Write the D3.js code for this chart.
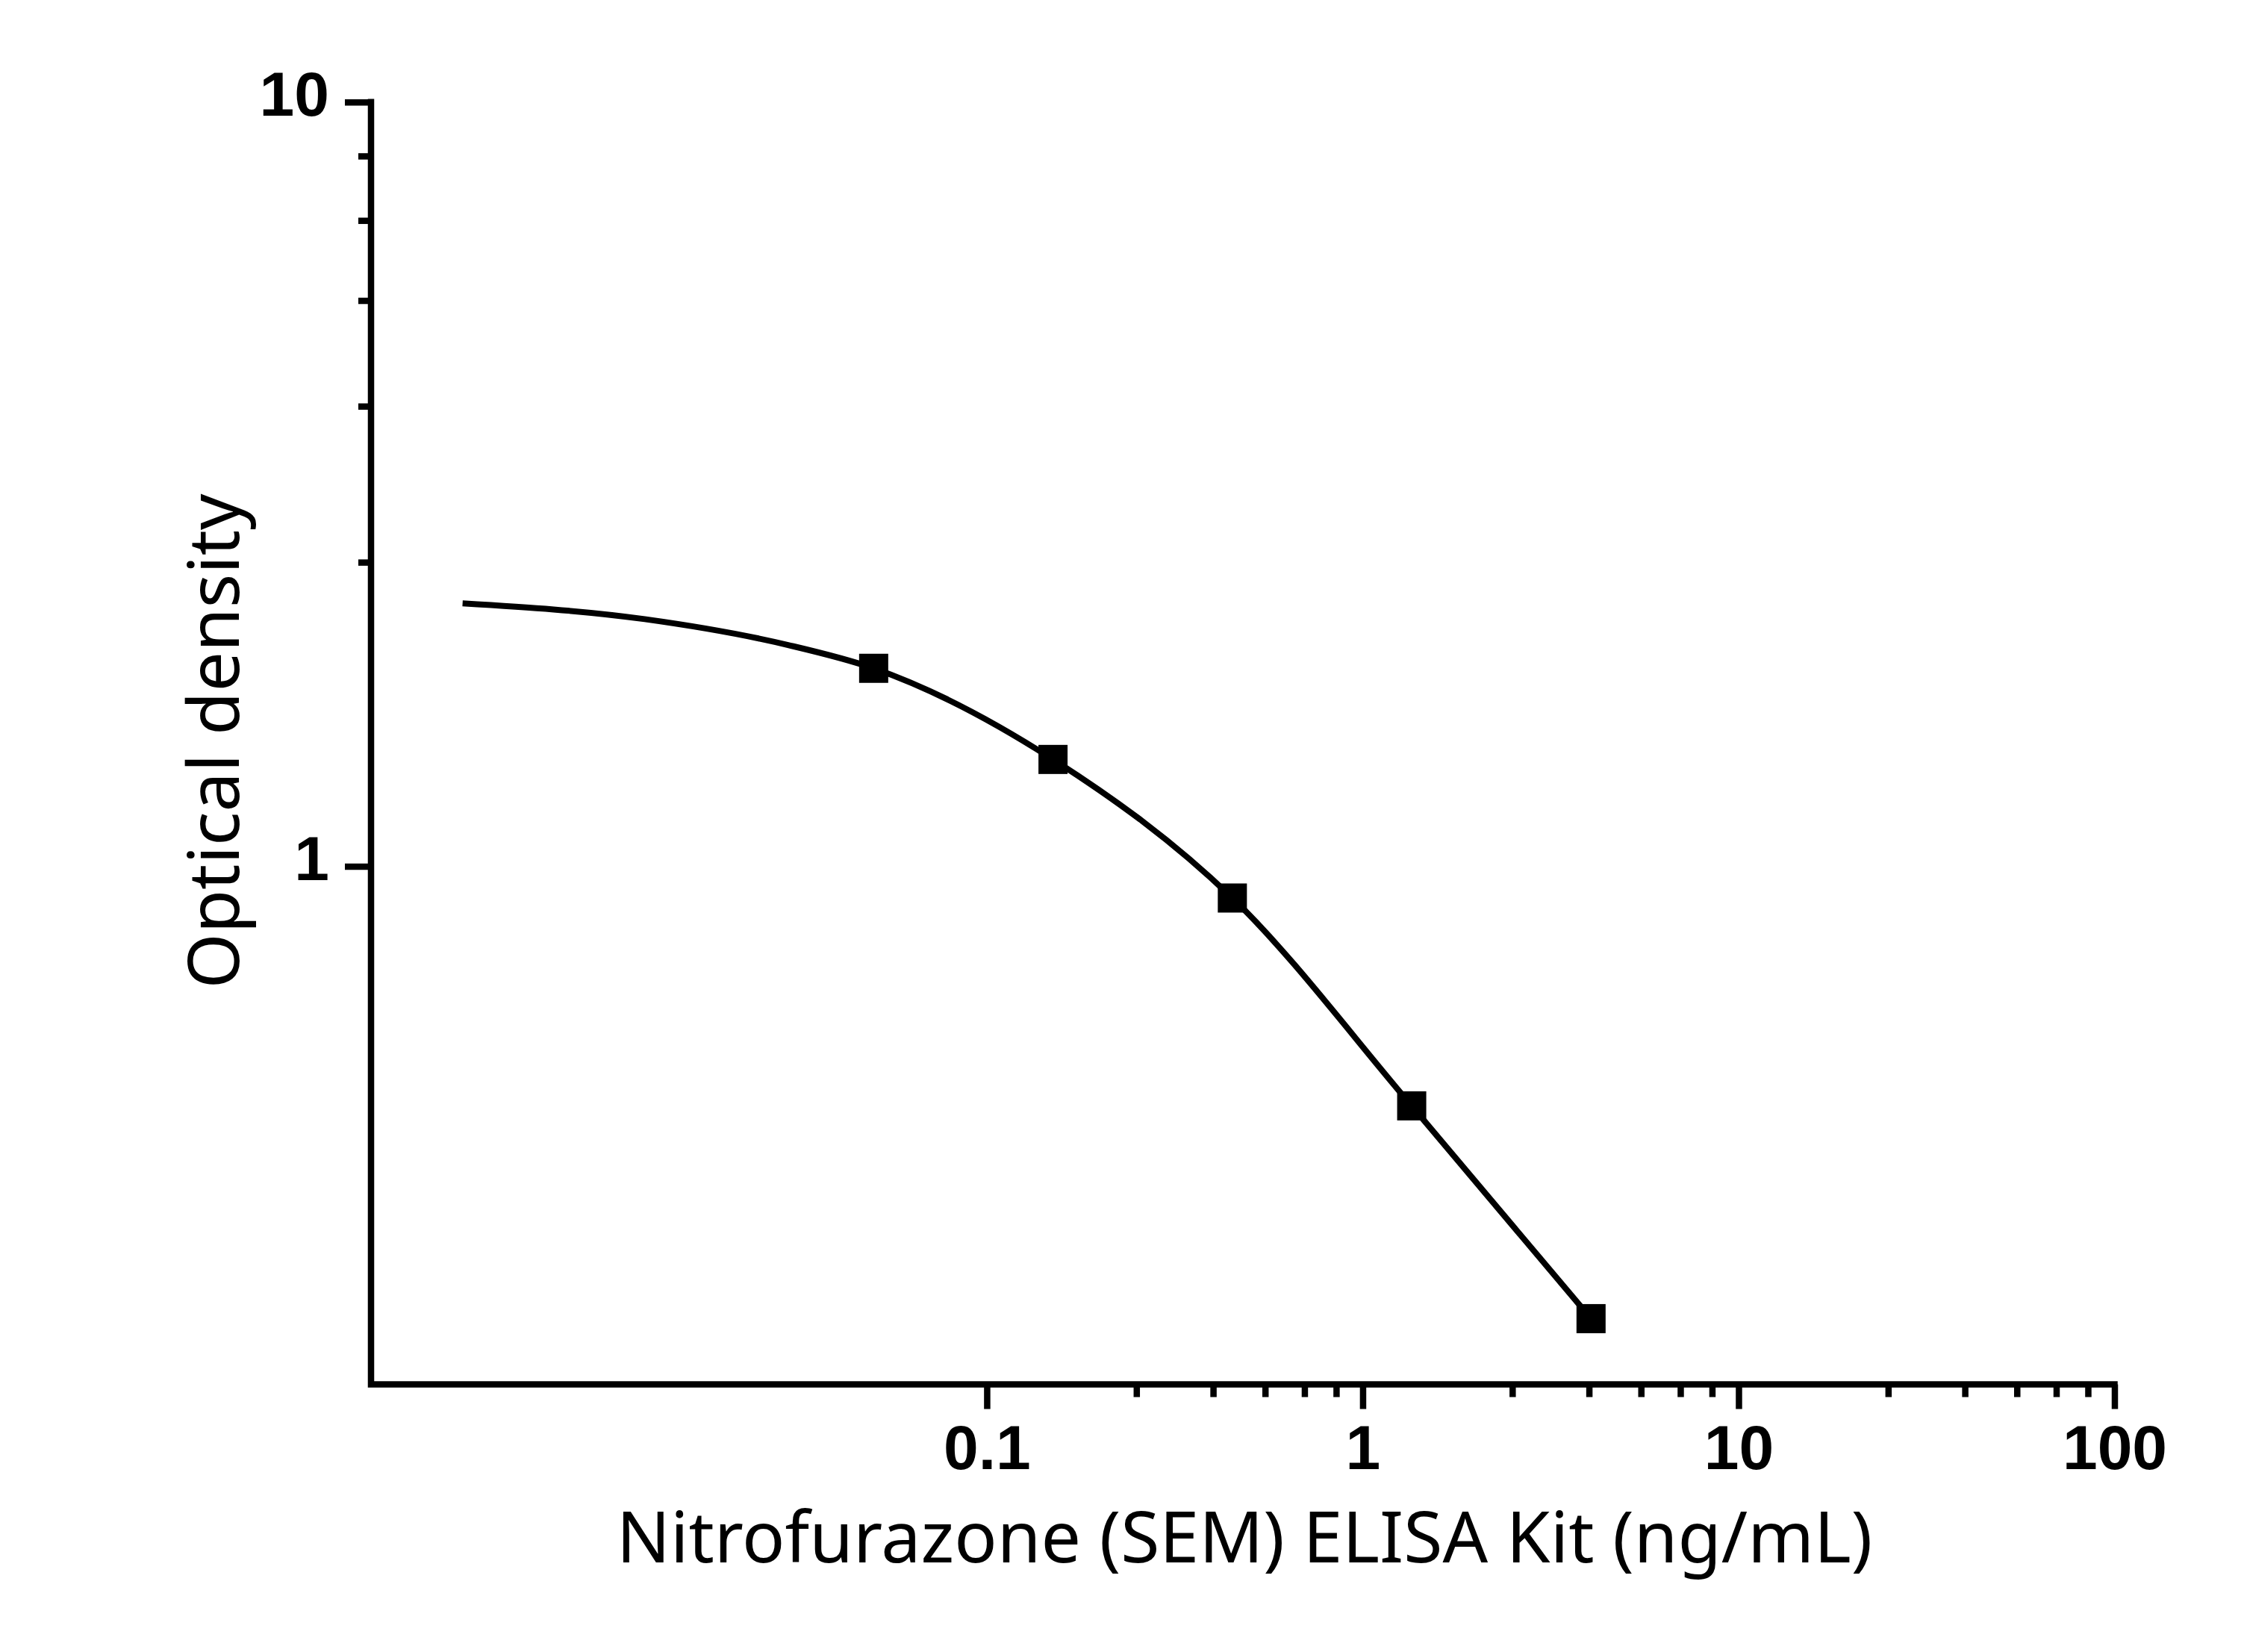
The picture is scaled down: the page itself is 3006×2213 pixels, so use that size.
<!DOCTYPE html>
<html>
<head>
<meta charset="utf-8">
<script src="https://cdn.jsdelivr.net/npm/d3@7"></script>
<style>
  body { margin: 0; background: #fff; }
  svg { display: block; }
</style>
</head>
<body>
<script>
var W = 3006, H = 2213;

// standard points (ng/mL, OD)
var concentrations = [0.05, 0.15, 0.45, 1.35, 4.05];
var odValues = [1.816, 1.380, 0.909, 0.486, 0.256];

// fitted curve
var curveX = [0.00403, 0.0123, 0.0296, 0.05, 0.15, 0.45, 1.35, 4.05];
var curveY = [2.208, 2.106, 1.948, 1.816, 1.380, 0.909, 0.486, 0.256];

// ticks
var xMajorTicks = [0.1, 1, 10, 100];
var xTickLabels = ["0.1", "1", "10", "100"];
var xMinorTicks = [0.25, 0.4, 0.55, 0.7, 0.85, 2.5, 4, 5.5, 7, 8.5, 25, 40, 55, 70, 85];
var yMajorTicks = [1, 10];
var yTickLabels = ["1", "10"];
var yMinorTicks = [2.5, 4, 5.5, 7, 8.5];

var xTitle = "Nitrofurazone (SEM) ELISA Kit (ng/mL)";
var yTitle = "Optical density";

var svg = d3.select("body").append("svg")
    .attr("width", W)
    .attr("height", H);

// plot box
var plotLeft = 497, plotRight = 2832.5, plotTop = 136.7, plotBottom = 1854.5;

var xScale = d3.scaleLog().domain([0.0023, 100]).range([plotLeft, plotRight]);
var yScale = d3.scaleLog().domain([0.21, 10]).range([plotBottom, plotTop]);

var lw = 8.5;
var tickFont = "'Liberation Sans', Arial, sans-serif";
var titleFont = "'Noto Sans', 'Open Sans', sans-serif";

// minor ticks
svg.append("g")
    .attr("transform", "translate(0," + plotBottom + ")")
    .call(d3.axisBottom(xScale).tickValues(xMinorTicks).tickSize(17).tickSizeOuter(0).tickFormat(""))
    .call(function(g){ g.select(".domain").remove(); });

svg.append("g")
    .attr("transform", "translate(" + plotLeft + ",0)")
    .call(d3.axisLeft(yScale).tickValues(yMinorTicks).tickSize(17).tickSizeOuter(0).tickFormat(""))
    .call(function(g){ g.select(".domain").remove(); });

// major ticks
var xAxisGroup = svg.append("g")
    .attr("transform", "translate(0," + plotBottom + ")")
    .call(d3.axisBottom(xScale).tickValues(xMajorTicks).tickSize(33).tickSizeOuter(0)
        .tickFormat(function(d, i){ return xTickLabels[i]; }));
xAxisGroup.select(".domain").remove();
xAxisGroup.selectAll("text")
    .attr("y", 113.5).attr("dy", 0);

var yAxisGroup = svg.append("g")
    .attr("transform", "translate(" + plotLeft + ",0)")
    .call(d3.axisLeft(yScale).tickValues(yMajorTicks).tickSize(35).tickSizeOuter(0)
        .tickFormat(function(d, i){ return yTickLabels[i]; }));
yAxisGroup.select(".domain").remove();
yAxisGroup.selectAll("text")
    .attr("x", -56).attr("dy", 0).attr("y", 18);

svg.selectAll(".tick line")
    .attr("stroke", "#000")
    .attr("stroke-width", lw);
svg.selectAll(".tick text")
    .attr("fill", "#000")
    .style("font-family", tickFont)
    .style("font-weight", "bold")
    .style("font-size", "84px");

// axis lines
svg.append("path")
    .attr("d", "M" + plotLeft + "," + plotTop + "V" + plotBottom + "H" + plotRight)
    .attr("fill", "none")
    .attr("stroke", "#000")
    .attr("stroke-width", lw)
    .attr("stroke-linecap", "square")
    .attr("stroke-linejoin", "miter");

// curve
var curveData = curveX.map(function(d, i){ return [d, curveY[i]]; });
var line = d3.line()
    .x(function(d){ return xScale(d[0]); })
    .y(function(d){ return yScale(d[1]); })
    .curve(d3.curveMonotoneX);

svg.append("path")
    .datum(curveData)
    .attr("d", line)
    .attr("fill", "none")
    .attr("stroke", "#000")
    .attr("stroke-width", 8);

// points
var sq = 39;
svg.selectAll("rect.pt")
    .data(concentrations)
    .enter()
    .append("rect")
    .attr("class", "pt")
    .attr("x", function(d){ return xScale(d) - sq / 2; })
    .attr("y", function(d, i){ return yScale(odValues[i]) - sq / 2; })
    .attr("width", sq)
    .attr("height", sq)
    .attr("fill", "#000");

// titles
svg.append("text")
    .attr("x", 1667)
    .attr("y", 2093)
    .attr("text-anchor", "middle")
    .style("font-family", titleFont)
    .style("font-size", "95px")
    .attr("fill", "#000")
    .text(xTitle);

svg.append("text")
    .attr("transform", "translate(320,993) rotate(-90)")
    .attr("text-anchor", "middle")
    .style("font-family", titleFont)
    .style("font-size", "95px")
    .attr("fill", "#000")
    .text(yTitle);
</script>
</body>
</html>
